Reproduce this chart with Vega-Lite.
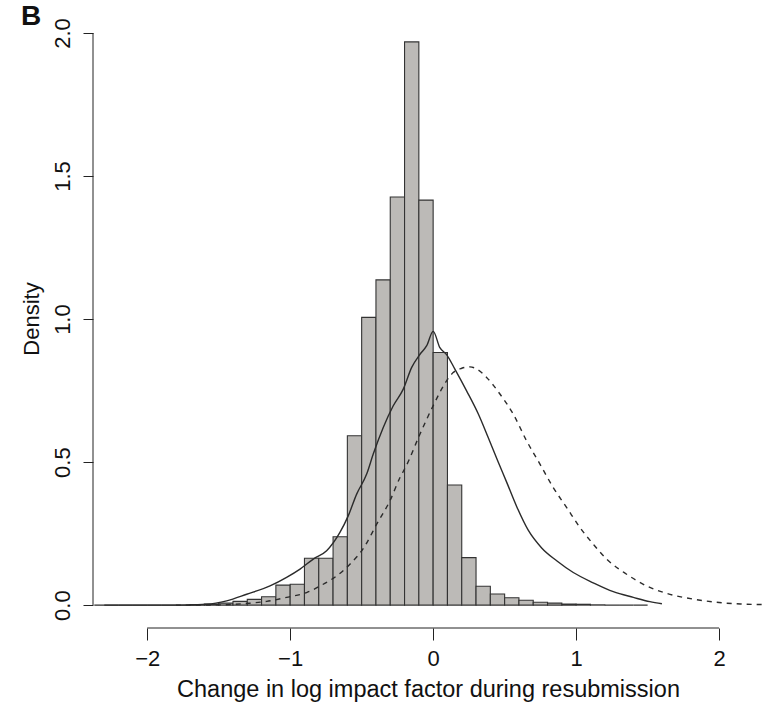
{
  "$schema": "https://vega.github.io/schema/vega-lite/v6.json",
  "width": 670,
  "height": 619,
  "autosize": {"type": "none"},
  "padding": {"left": 93, "top": 9, "right": 0, "bottom": 75},
  "background": "white",
  "config": {
    "view": {"stroke": null},
    "font": "Liberation Sans",
    "axis": {"grid": false, "domain": false, "tickColor": "#222", "labelColor": "#111", "titleColor": "#111", "labelFont": "Liberation Sans", "titleFont": "Liberation Sans", "titleFontWeight": "normal"}
  },
  "title": {"text": "B", "anchor": "start", "frame": "group", "fontSize": 28, "fontWeight": "bold", "font": "Liberation Sans", "color": "#111", "offset": 0, "dx": -72, "dy": 22},
  "datasets": {
    "bins": [
      {"start": -2.3, "end": -2.2, "density": 0},
      {"start": -2.2, "end": -2.1, "density": 0},
      {"start": -2.1, "end": -2.0, "density": 0},
      {"start": -2.0, "end": -1.9, "density": 0},
      {"start": -1.9, "end": -1.8, "density": 0},
      {"start": -1.8, "end": -1.7, "density": 0},
      {"start": -1.7, "end": -1.6, "density": 0.002},
      {"start": -1.6, "end": -1.5, "density": 0.004},
      {"start": -1.5, "end": -1.4, "density": 0.007},
      {"start": -1.4, "end": -1.3, "density": 0.013},
      {"start": -1.3, "end": -1.2, "density": 0.02},
      {"start": -1.2, "end": -1.1, "density": 0.029},
      {"start": -1.1, "end": -1.0, "density": 0.07},
      {"start": -1.0, "end": -0.9, "density": 0.073},
      {"start": -0.9, "end": -0.8, "density": 0.164},
      {"start": -0.8, "end": -0.7, "density": 0.164},
      {"start": -0.7, "end": -0.6, "density": 0.239},
      {"start": -0.6, "end": -0.5, "density": 0.592},
      {"start": -0.5, "end": -0.4, "density": 1.006},
      {"start": -0.4, "end": -0.3, "density": 1.137},
      {"start": -0.3, "end": -0.2, "density": 1.427},
      {"start": -0.2, "end": -0.1, "density": 1.969},
      {"start": -0.1, "end": 0.0, "density": 1.416},
      {"start": 0.0, "end": 0.1, "density": 0.883},
      {"start": 0.1, "end": 0.2, "density": 0.42},
      {"start": 0.2, "end": 0.3, "density": 0.166},
      {"start": 0.3, "end": 0.4, "density": 0.066},
      {"start": 0.4, "end": 0.5, "density": 0.039},
      {"start": 0.5, "end": 0.6, "density": 0.026},
      {"start": 0.6, "end": 0.7, "density": 0.017},
      {"start": 0.7, "end": 0.8, "density": 0.01},
      {"start": 0.8, "end": 0.9, "density": 0.007},
      {"start": 0.9, "end": 1.0, "density": 0.004},
      {"start": 1.0, "end": 1.1, "density": 0.003},
      {"start": 1.1, "end": 1.2, "density": 0.001},
      {"start": 1.2, "end": 1.3, "density": 0},
      {"start": 1.3, "end": 1.4, "density": 0},
      {"start": 1.4, "end": 1.5, "density": 0}
    ],
    "observed": [
      {"x": -2.37, "y": 0}, {"x": -1.77, "y": 0}, {"x": -1.584, "y": 0.003}, {"x": -1.444, "y": 0.015},
      {"x": -1.304, "y": 0.038}, {"x": -1.141, "y": 0.067}, {"x": -1.025, "y": 0.097}, {"x": -0.931, "y": 0.126},
      {"x": -0.838, "y": 0.161}, {"x": -0.745, "y": 0.19}, {"x": -0.652, "y": 0.254}, {"x": -0.594, "y": 0.312},
      {"x": -0.535, "y": 0.388}, {"x": -0.465, "y": 0.458}, {"x": -0.419, "y": 0.528}, {"x": -0.349, "y": 0.621},
      {"x": -0.279, "y": 0.697}, {"x": -0.209, "y": 0.755}, {"x": -0.15, "y": 0.831}, {"x": -0.092, "y": 0.877},
      {"x": -0.045, "y": 0.907}, {"x": 0.0, "y": 0.957}, {"x": 0.047, "y": 0.9}, {"x": 0.094, "y": 0.876},
      {"x": 0.152, "y": 0.825}, {"x": 0.234, "y": 0.749}, {"x": 0.316, "y": 0.668}, {"x": 0.385, "y": 0.586},
      {"x": 0.455, "y": 0.5}, {"x": 0.514, "y": 0.43}, {"x": 0.584, "y": 0.345}, {"x": 0.665, "y": 0.262},
      {"x": 0.759, "y": 0.2}, {"x": 0.864, "y": 0.155}, {"x": 0.98, "y": 0.114}, {"x": 1.12, "y": 0.078},
      {"x": 1.26, "y": 0.047}, {"x": 1.4, "y": 0.027}, {"x": 1.516, "y": 0.012}, {"x": 1.6, "y": 0.005}
    ],
    "fitted": [
      {"x": -1.8, "y": 0}, {"x": -1.49, "y": 0.001}, {"x": -1.304, "y": 0.006}, {"x": -1.164, "y": 0.013},
      {"x": -1.025, "y": 0.027}, {"x": -0.885, "y": 0.044}, {"x": -0.769, "y": 0.073}, {"x": -0.675, "y": 0.102},
      {"x": -0.582, "y": 0.143}, {"x": -0.477, "y": 0.207}, {"x": -0.395, "y": 0.283}, {"x": -0.302, "y": 0.365},
      {"x": -0.232, "y": 0.446}, {"x": -0.19, "y": 0.485}, {"x": -0.092, "y": 0.598}, {"x": 0.0, "y": 0.697},
      {"x": 0.094, "y": 0.784}, {"x": 0.14, "y": 0.813}, {"x": 0.2, "y": 0.828}, {"x": 0.257, "y": 0.833},
      {"x": 0.31, "y": 0.824}, {"x": 0.374, "y": 0.796}, {"x": 0.467, "y": 0.738}, {"x": 0.56, "y": 0.668},
      {"x": 0.654, "y": 0.574}, {"x": 0.747, "y": 0.493}, {"x": 0.84, "y": 0.411}, {"x": 0.934, "y": 0.341},
      {"x": 1.027, "y": 0.271}, {"x": 1.12, "y": 0.213}, {"x": 1.213, "y": 0.161}, {"x": 1.353, "y": 0.108},
      {"x": 1.493, "y": 0.067}, {"x": 1.633, "y": 0.041}, {"x": 1.82, "y": 0.021}, {"x": 2.0, "y": 0.009},
      {"x": 2.15, "y": 0.004}, {"x": 2.31, "y": 0.002}
    ]
  },
  "layer": [
    {
      "data": {"name": "bins"},
      "mark": {"type": "rect", "fill": "#bcbab7", "stroke": "#333333", "strokeWidth": 1.1},
      "encoding": {
        "x": {"field": "start", "type": "quantitative",
              "scale": {"domain": [-2.379, 2.307], "nice": false, "zero": false},
              "axis": {"values": [-2, -1, 0, 1, 2], "format": "d", "tickSize": 12, "labelFontSize": 22, "labelPadding": 8,
                       "title": "Change in log impact factor during resubmission", "titleFontSize": 23.5, "titlePadding": 8}},
        "x2": {"field": "end"},
        "y": {"field": "density", "type": "quantitative",
              "scale": {"domain": [-0.08, 2.084], "nice": false, "zero": false},
              "axis": {"values": [0, 0.5, 1, 1.5, 2], "format": ".1f", "tickSize": 10, "labelFontSize": 22,
                       "labelAngle": -90, "labelAlign": "center", "labelBaseline": "alphabetic", "labelPadding": 14,
                       "title": "Density", "titleFontSize": 22, "titlePadding": 8}},
        "y2": {"datum": 0}
      }
    },
    {
      "data": {"name": "observed"},
      "mark": {"type": "line", "stroke": "#2b2b2b", "strokeWidth": 1.4, "interpolate": "monotone"},
      "encoding": {
        "x": {"field": "x", "type": "quantitative"},
        "y": {"field": "y", "type": "quantitative"}
      }
    },
    {
      "data": {"name": "fitted"},
      "mark": {"type": "line", "stroke": "#2b2b2b", "strokeWidth": 1.4, "strokeDash": [5, 5], "interpolate": "monotone"},
      "encoding": {
        "x": {"field": "x", "type": "quantitative"},
        "y": {"field": "y", "type": "quantitative"}
      }
    },
    {
      "data": {"values": [{"a": -2, "b": 2}]},
      "mark": {"type": "rule", "stroke": "#222", "strokeWidth": 1},
      "encoding": {
        "x": {"field": "a", "type": "quantitative"},
        "x2": {"field": "b"},
        "y": {"datum": -0.08}
      }
    },
    {
      "data": {"values": [{"a": 0, "b": 2}]},
      "mark": {"type": "rule", "stroke": "#222", "strokeWidth": 1},
      "encoding": {
        "y": {"field": "a", "type": "quantitative"},
        "y2": {"field": "b"},
        "x": {"datum": -2.379}
      }
    }
  ]
}
